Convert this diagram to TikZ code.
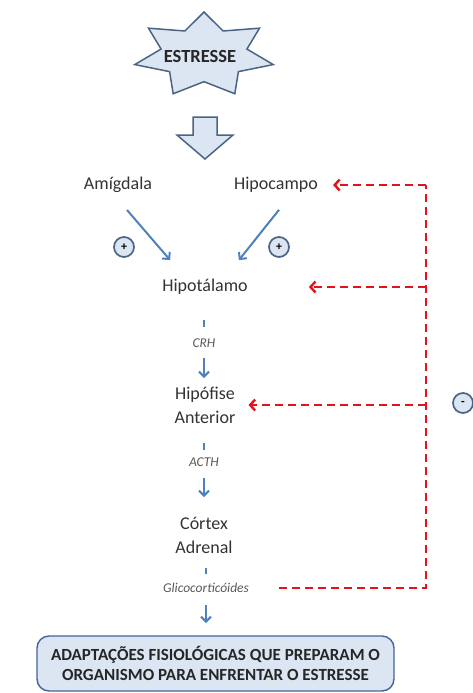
\documentclass[tikz,border=0pt]{standalone}
\usepackage{fontspec}
\setmainfont{Carlito}
\usetikzlibrary{arrows.meta,calc}
\definecolor{txt}{HTML}{333333}
\definecolor{horc}{HTML}{595959}
\definecolor{ablue}{HTML}{4F81BD}
\definecolor{lfill}{HTML}{DCE6F2}
\definecolor{sborder}{HTML}{4A6484}
\definecolor{fred}{HTML}{E3121B}
\begin{document}
\begin{tikzpicture}[x=1pt,y=-1pt,
  lab/.style={font=\fontsize{18}{24}\selectfont, text=txt, align=center, inner sep=0pt},
  horm/.style={font=\fontsize{13.5}{16}\selectfont\itshape, text=horc, inner sep=0pt},
  barrow/.style={draw=ablue, line width=2pt, -{Straight Barb[length=5pt,width=10pt]}},
  stub/.style={draw=ablue, line width=2.2pt},
  fb/.style={draw=fred, line width=2.4pt, dash pattern=on 8pt off 5pt},
  fbarrow/.style={fb, -{Straight Barb[length=5pt,width=11pt]}},
  sign/.style={circle, draw=sborder, fill=lfill, line width=1.7pt, minimum size=20pt, inner sep=0pt, text=black, font=\bfseries\fontsize{12}{12}\selectfont},
  shapesty/.style={draw=sborder, fill=lfill, line width=1.5pt, line join=miter}]
\useasboundingbox (0,0) rectangle (473,693);

% star
\begin{scope}[shift={(204,55)}]
\draw[shapesty] (-90:71 and 43) foreach \k [evaluate=\k as \f using {1-0.38*mod(\k,2)}] in {1,...,13} { -- ({-90+\k*360/14}:{71*\f} and {43*\f}) } -- cycle;
\end{scope}
\node[font=\bfseries\fontsize{18.5}{20}\selectfont, text=black!85, inner sep=0pt] (stress) at (200,56) {ESTRESSE};

% block arrow
\draw[shapesty] (193,117) -- (217,117) -- (217,135) -- (233,135) -- (205,159) -- (177,135) -- (193,135) -- cycle;

% labels
\node[lab] (amig) at (118,185) {Amígdala};
\node[lab] (hipoc) at (276,185) {Hipocampo};
\node[lab] (hipot) at (205,287) {Hipotálamo};
\node[lab] (hipof) at (205,405) {Hipófise\\Anterior};
\node[lab] (cortex) at (204,535) {Córtex\\Adrenal};
\node[horm] (crh) at (204,343) {CRH};
\node[horm] (acth) at (204,462) {ACTH};
\node[horm] (gluco) at (206,588) {Glicocorticóides};

% signs
\node[sign] (p1) at (124,247) {+};
\node[sign] (p2) at (279,247) {+};
\node[sign] (minus) at (463,403) {-};

% blue arrows
\draw[barrow] ($(amig.south)+(9,17)$) -- ($(hipot.north west)+(8,-19)$);
\draw[barrow] ($(hipoc.south)+(3,17)$) -- ($(hipot.north east)+(-9,-19)$);

\draw[stub] ($(crh.center)+(0,-23)$) -- ($(crh.center)+(0,-16)$);
\draw[barrow] ($(crh.center)+(0,15)$) -- ($(crh.center)+(0,35)$);
\draw[stub] ($(acth.center)+(0,-19)$) -- ($(acth.center)+(0,-12)$);
\draw[barrow] ($(acth.center)+(0,16)$) -- ($(acth.center)+(0,35)$);
\draw[stub] ($(gluco.center)+(0,-20)$) -- ($(gluco.center)+(0,-14)$);
\draw[barrow] ($(gluco.center)+(0,17)$) -- ($(gluco.center)+(0,35)$);

% result box
\node[draw=ablue!80!black, fill=lfill, line width=1.4pt, rounded corners=12pt,
      minimum width=357pt, minimum height=55pt, align=center, text=black!85,
      font=\bfseries\fontsize{17}{19.5}\selectfont] (adapt) at (215.5,663.5)
  {ADAPTAÇÕES FISIOLÓGICAS QUE PREPARAM O\\ORGANISMO PARA ENFRENTAR O ESTRESSE};

% feedback
\coordinate (c0) at (426,588);
\coordinate (c1) at (426,185);
\draw[fb] ([xshift=30pt]gluco.east) -- (c0) -- (c1);
\draw[fbarrow] (c1) -- ([xshift=15pt]hipoc.east);
\draw[fbarrow] (hipot.east -| c1) -- ([xshift=61pt]hipot.east);
\draw[fbarrow] (hipof.east -| c1) -- ([xshift=13pt]hipof.east);
\end{tikzpicture}
\end{document}
